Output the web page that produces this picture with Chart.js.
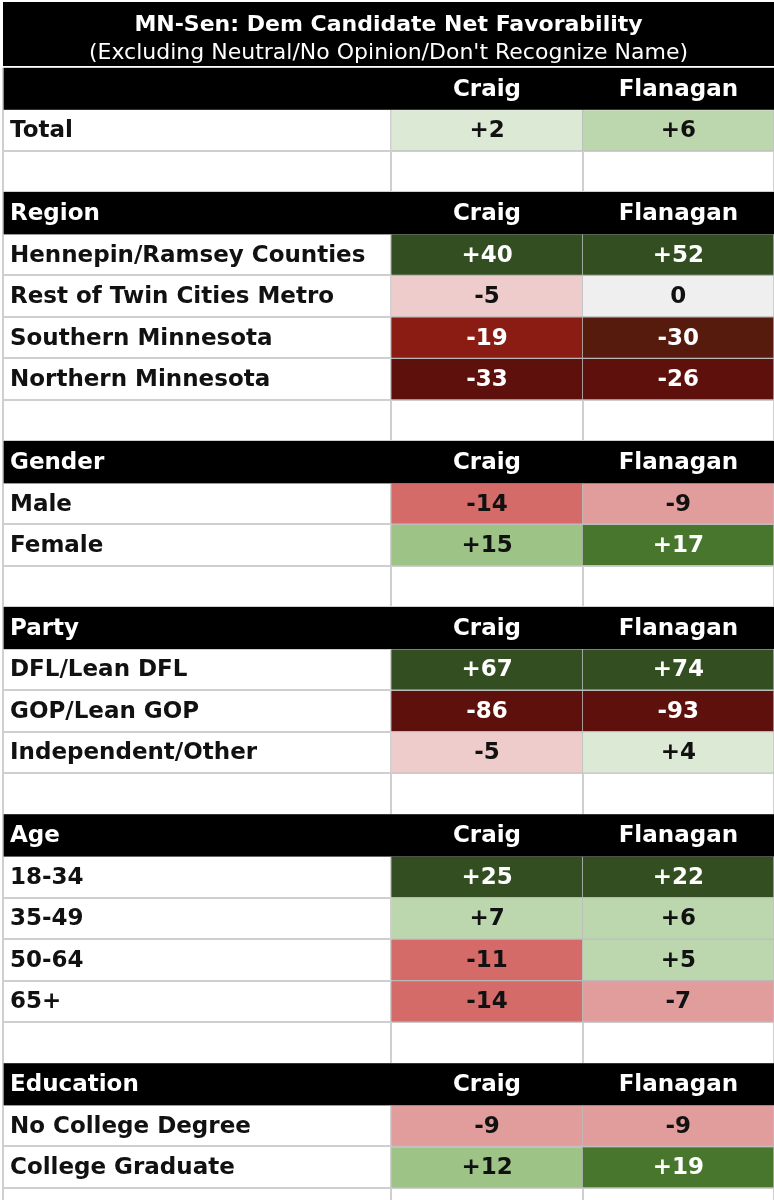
<!DOCTYPE html>
<html>
<head>
<meta charset="utf-8">
<script src="https://cdn.jsdelivr.net/npm/chart.js@4.4.1/dist/chart.umd.min.js"></script>
<style>
  html, body { margin: 0; padding: 0; background: #ffffff; }
  #wrap { width: 774px; height: 1200px; position: relative; }
</style>
</head>
<body>
<div id="wrap"><canvas id="c"></canvas></div>
<script>
// ---------- DATA ----------
const titleText = 'MN-Sen: Dem Candidate Net Favorability';
const subtitleText = "(Excluding Neutral/No Opinion/Don't Recognize Name)";
const columns = ['Craig', 'Flanagan'];
const rowLabels = ['', 'Total', '', 'Region', 'Hennepin/Ramsey Counties', 'Rest of Twin Cities Metro',
  'Southern Minnesota', 'Northern Minnesota', '', 'Gender', 'Male', 'Female', '', 'Party',
  'DFL/Lean DFL', 'GOP/Lean GOP', 'Independent/Other', '', 'Age', '18-34', '35-49', '50-64', '65+',
  '', 'Education', 'No College Degree', 'College Graduate', ''];
const rowTypes = ['head', 'data', 'blank', 'head', 'data', 'data', 'data', 'data', 'blank', 'head', 'data', 'data',
  'blank', 'head', 'data', 'data', 'data', 'blank', 'head', 'data', 'data', 'data', 'data', 'blank', 'head',
  'data', 'data', 'blank'];
const craig = [null, 2, null, null, 40, -5, -19, -33, null, null, -14, 15, null, null, 67, -86, -5, null, null,
  25, 7, -11, -14, null, null, -9, 12, null];
const flanagan = [null, 6, null, null, 52, 0, -30, -26, null, null, -9, 17, null, null, 74, -93, 4, null, null,
  22, 6, 5, -7, null, null, -9, 19, null];

// ---------- STYLE / LAYOUT ----------
const COL_EDGES = [0, 2.03, 3.03, 4.03];
const LABEL_FONT = 'bold 23px "DejaVu Sans"';
const colorOverrides = { 'Flanagan:6': '#561b0c' };

function cellColor(v, col, row) {
  const key = col + ':' + row;
  if (colorOverrides[key]) return colorOverrides[key];
  if (v >= 20) return '#334f21';
  if (v >= 16) return '#47762c';
  if (v >= 10) return '#9dc486';
  if (v >= 5) return '#bcd7ae';
  if (v >= 1) return '#dce9d5';
  if (v === 0) return '#efefef';
  if (v >= -5) return '#efcccc';
  if (v >= -9) return '#e09d9b';
  if (v >= -14) return '#d46b69';
  if (v >= -20) return '#8b1c13';
  return '#5e100c';
}
function textColor(v) { return (v >= 16 || v <= -15) ? '#ffffff' : '#111111'; }
function fmt(v) { return v > 0 ? '+' + v : String(v); }

function cellData(values, c0, c1) {
  const out = [];
  values.forEach((v, i) => { if (v !== null) out.push({ x: [c0, c1], y: i, v: v }); });
  return out;
}
const headerData = [];
rowTypes.forEach((t, i) => { if (t === 'head') headerData.push({ x: [COL_EDGES[0], COL_EDGES[3]], y: i }); });

const bgPlugin = {
  id: 'bg',
  beforeDraw(chart) {
    const ctx = chart.ctx;
    ctx.save();
    ctx.fillStyle = '#ffffff';
    ctx.fillRect(0, 0, chart.width, chart.height);
    ctx.fillStyle = '#000000';
    ctx.fillRect(chart.chartArea.left, 2, chart.width - chart.chartArea.left, chart.chartArea.top - 4);
    ctx.restore();
  }
};

const textPlugin = {
  id: 'cellText',
  afterDatasetsDraw(chart) {
    const ctx = chart.ctx, xs = chart.scales.x, ys = chart.scales.y;
    ctx.save();
    ctx.font = LABEL_FONT;
    ctx.textBaseline = 'middle';
    const colCenters = [
      xs.getPixelForValue((COL_EDGES[1] + COL_EDGES[2]) / 2),
      xs.getPixelForValue((COL_EDGES[2] + COL_EDGES[3]) / 2)
    ];
    const series = [craig, flanagan];
    rowLabels.forEach((lab, i) => {
      const y = ys.getPixelForValue(i) + 1;
      const isHead = rowTypes[i] === 'head';
      if (lab) {
        ctx.textAlign = 'left';
        ctx.fillStyle = isHead ? '#ffffff' : '#111111';
        ctx.fillText(lab, xs.getPixelForValue(0) + 7, y);
      }
      if (isHead) {
        ctx.textAlign = 'center';
        ctx.fillStyle = '#ffffff';
        columns.forEach((c, k) => ctx.fillText(c, colCenters[k], y));
      } else {
        series.forEach((s, k) => {
          const v = s[i];
          if (v === null) return;
          ctx.textAlign = 'center';
          ctx.fillStyle = textColor(v);
          ctx.fillText(fmt(v), colCenters[k], y);
        });
      }
    });
    ctx.restore();
  }
};

new Chart(document.getElementById('c'), {
  type: 'bar',
  data: {
    datasets: [
      { label: 'Header', data: headerData, backgroundColor: '#000000', grouped: false,
        barPercentage: 1, categoryPercentage: 1, borderWidth: 0 },
      { label: columns[0], data: cellData(craig, COL_EDGES[1], COL_EDGES[2]), grouped: false,
        barPercentage: 1, categoryPercentage: 1,
        backgroundColor: (c) => c.raw ? cellColor(c.raw.v, columns[0], c.raw.y) : '#fff',
        borderColor: 'rgba(0,0,0,0.07)', borderWidth: 1 },
      { label: columns[1], data: cellData(flanagan, COL_EDGES[2], COL_EDGES[3]), grouped: false,
        barPercentage: 1, categoryPercentage: 1,
        backgroundColor: (c) => c.raw ? cellColor(c.raw.v, columns[1], c.raw.y) : '#fff',
        borderColor: 'rgba(0,0,0,0.07)', borderWidth: 1 }
    ]
  },
  options: {
    indexAxis: 'y',
    responsive: true,
    maintainAspectRatio: false,
    animation: false,
    layout: { padding: { left: 3, right: 0, top: 0, bottom: 0 } },
    plugins: {
      legend: { display: false },
      tooltip: { enabled: false },
      title: {
        display: true, text: titleText, color: '#ffffff',
        font: { family: 'DejaVu Sans', size: 22, weight: 'bold', lineHeight: 1.2 },
        padding: { top: 12, bottom: 2 }
      },
      subtitle: {
        display: true, text: subtitleText, color: '#ffffff',
        font: { family: 'DejaVu Sans', size: 22, weight: 'normal', lineHeight: 1.2 },
        padding: { top: 0, bottom: 1.2 }
      }
    },
    scales: {
      x: {
        type: 'linear', min: COL_EDGES[0], max: COL_EDGES[3], offset: false,
        afterBuildTicks: (s) => { s.ticks = COL_EDGES.map(v => ({ value: v })); },
        ticks: { display: false },
        border: { display: false },
        grid: { color: '#cfcfcf', lineWidth: 2, drawTicks: false, offset: false }
      },
      y: {
        type: 'linear', reverse: true, min: -0.5, max: 26.79, offset: false,
        afterBuildTicks: (s) => {
          const t = [];
          for (let i = 0; i <= rowLabels.length; i++) t.push({ value: i - 0.5 });
          s.ticks = t;
        },
        ticks: { display: false },
        border: { display: false },
        grid: { color: '#cfcfcf', lineWidth: 2, drawTicks: false, offset: false }
      }
    }
  },
  plugins: [bgPlugin, textPlugin]
});
</script>
</body>
</html>
